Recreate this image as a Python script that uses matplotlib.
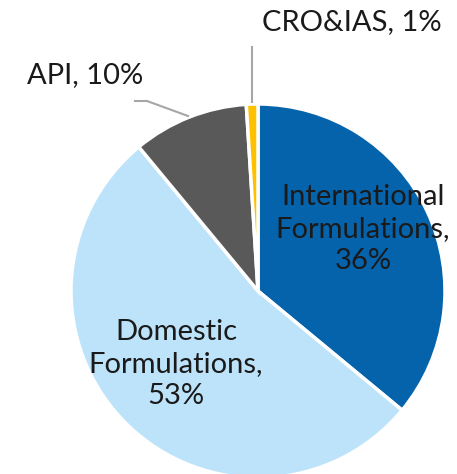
import matplotlib.pyplot as plt

labels = ['International\nFormulations,\n36%', 'Domestic\nFormulations,\n53%', 'API, 10%', 'CRO&IAS, 1%']
shares = [36, 53, 10, 1]
colors = ['#0563AB', '#BDE3FA', '#595959', '#FFC000']

W, H = 457, 474
fig = plt.figure(figsize=(W / 100, H / 100), dpi=100)
ax = fig.add_axes([0, 0, 1, 1])

cx, cy, r = 258, H - 291, 187
ax.pie(shares, colors=colors, startangle=90, counterclock=False,
       center=(cx, cy), radius=r, frame=True,
       wedgeprops=dict(edgecolor='white', linewidth=2.5))
ax.set_xlim(0, W)
ax.set_ylim(0, H)
ax.set_aspect('equal')
ax.axis('off')

font = dict(family='Lato', color='#1a1a1a', fontsize=21, ha='center', va='center',
            linespacing=1.3)
ax.text(363, H - 229, labels[0], **font)
ax.text(176, H - 364, labels[1], **font)
ax.text(85, H - 75, labels[2], **font)
ax.text(352, H - 22, labels[3], **font)

# leader lines
ax.plot([135, 147, 188], [H - 101, H - 101, H - 116], color='#A6A6A6', lw=1.5)
ax.plot([252, 252], [H - 47, H - 102], color='#A6A6A6', lw=1.5)

fig.savefig('out.png', dpi=100)
